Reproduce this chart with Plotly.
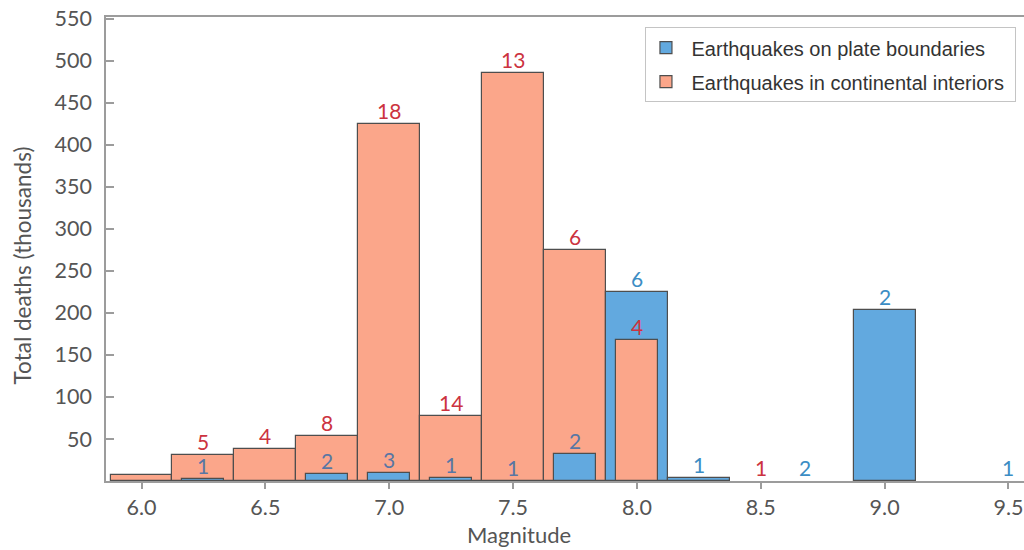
import plotly.graph_objects as go

# ---------------- data ----------------
interior_mag = [6.0, 6.25, 6.5, 6.75, 7.0, 7.25, 7.5, 7.75, 8.0, 8.5]
interior_deaths = [7, 31, 38, 54, 425, 77, 485, 275, 168, 0]
interior_counts = [None, 5, 4, 8, 18, 14, 13, 6, 4, 1]

plate_mag = [6.25, 6.75, 7.0, 7.25, 7.5, 7.75, 8.0, 8.25, 8.68, 9.0, 9.5]
plate_deaths = [2, 8, 10, 3, 0, 32, 225, 3, 0, 203, 0]
plate_counts = [1, 2, 3, 1, 1, 2, 6, 1, 2, 2, 1]

x_ticks = [6.0, 6.5, 7.0, 7.5, 8.0, 8.5, 9.0, 9.5]
y_ticks = [50, 100, 150, 200, 250, 300, 350, 400, 450, 500, 550]

# ---------------- styles ----------------
ORANGE = "#fba68a"
BLUE = "#62a9df"
OUTLINE = "#4e4e4e"
RED_TXT = "#cc3340"
BLUE_TXT = "#3c8dc4"
BLUE_TXT_ON_ORANGE = "#5876a4"
AXIS = "#9c9c9c"
TICKFONT = "#555555"
FONT = "Lato"
WIDE = 0.25
NARROW = 0.17
NB = "\u00a0"

interior_lookup = dict(zip(interior_mag, interior_deaths))
plate_lookup = dict(zip(plate_mag, plate_deaths))


def split(mags, vals, other):
    """Bars shorter than the other series at the same magnitude are drawn narrow and
    in front; the rest are wide and behind. Zero-height bars are not drawn."""
    back_x, back_y, front_x, front_y = [], [], [], []
    for m, v in zip(mags, vals):
        if v <= 0:
            continue
        if m in other and other[m] > v:
            front_x.append(m)
            front_y.append(v)
        else:
            back_x.append(m)
            back_y.append(v)
    return back_x, back_y, front_x, front_y


ib_x, ib_y, if_x, if_y = split(interior_mag, interior_deaths, plate_lookup)
pb_x, pb_y, pf_x, pf_y = split(plate_mag, plate_deaths, interior_lookup)

fig = go.Figure()
line = dict(color=OUTLINE, width=1.2)

fig.add_trace(go.Bar(x=ib_x, y=ib_y, width=WIDE, marker=dict(color=ORANGE, line=line),
                     name=NB + "Earthquakes in continental interiors" + NB,
                     legendrank=2, legendgroup="b", hoverinfo="x+y"))
fig.add_trace(go.Bar(x=pb_x, y=pb_y, width=WIDE, marker=dict(color=BLUE, line=line),
                     name=NB + "Earthquakes on plate boundaries",
                     legendrank=1, legendgroup="a", hoverinfo="x+y"))
fig.add_trace(go.Bar(x=if_x, y=if_y, width=NARROW, marker=dict(color=ORANGE, line=line),
                     showlegend=False, legendgroup="b", hoverinfo="x+y"))
fig.add_trace(go.Bar(x=pf_x, y=pf_y, width=NARROW, marker=dict(color=BLUE, line=line),
                     showlegend=False, legendgroup="a", hoverinfo="x+y"))

# count labels above the bars
annotations = []
for m, v, c in zip(interior_mag, interior_deaths, interior_counts):
    if c is None:
        continue
    annotations.append(dict(x=m, y=v, xref="x", yref="y", text=str(c), showarrow=False,
                            yanchor="bottom", yshift=-1,
                            font=dict(family=FONT, size=21, color=RED_TXT)))
for m, v, c in zip(plate_mag, plate_deaths, plate_counts):
    over_orange = interior_lookup.get(m, 0) > v
    annotations.append(dict(x=m, y=v, xref="x", yref="y", text=str(c), showarrow=False,
                            yanchor="bottom", yshift=-1,
                            font=dict(family=FONT, size=21,
                                      color=BLUE_TXT_ON_ORANGE if over_orange else BLUE_TXT)))

# axis titles
annotations.append(dict(x=0.45, y=-0.116, xref="paper", yref="paper", text="Magnitude",
                        showarrow=False, xanchor="center", yanchor="middle",
                        font=dict(family=FONT, size=22, color=TICKFONT)))
annotations.append(dict(x=-0.091, y=0.4655, xref="paper", yref="paper",
                        text="Total deaths (thousands)", textangle=-90,
                        showarrow=False, xanchor="center", yanchor="middle",
                        font=dict(family=FONT, size=22.5, color=TICKFONT)))

fig.update_layout(
    width=1024, height=550,
    margin=dict(l=106, r=0, t=17, b=69),
    paper_bgcolor="white", plot_bgcolor="white",
    barmode="overlay",
    bargap=0,
    font=dict(family=FONT, size=20, color=TICKFONT),
    annotations=annotations,
    legend=dict(x=0.5871, y=0.978, xanchor="left", yanchor="top",
                bgcolor="white", bordercolor="#c4c4c4", borderwidth=1,
                font=dict(family="Liberation Sans", size=20, color="#333333"),
                traceorder="grouped", tracegroupgap=5),
    showlegend=True,
)

fig.update_xaxes(range=[5.8567, 9.5628], tickvals=x_ticks,
                 ticktext=[f"{t:.1f}" for t in x_ticks],
                 showline=True, linecolor=AXIS, linewidth=1.5, mirror=True,
                 ticks="outside", ticklen=6, tickcolor=AXIS, tickwidth=1.5,
                 showgrid=False, zeroline=False,
                 tickfont=dict(family=FONT, size=21.5, color=TICKFONT))
fig.update_yaxes(range=[0, 552], tickvals=y_ticks,
                 showline=True, linecolor=AXIS, linewidth=1.5,
                 ticks="inside", ticklen=8, tickcolor=AXIS, tickwidth=1.5,
                 ticklabelstandoff=8,
                 showgrid=False, zeroline=False,
                 tickfont=dict(family=FONT, size=21.5, color=TICKFONT))

fig.write_html("out.html")
